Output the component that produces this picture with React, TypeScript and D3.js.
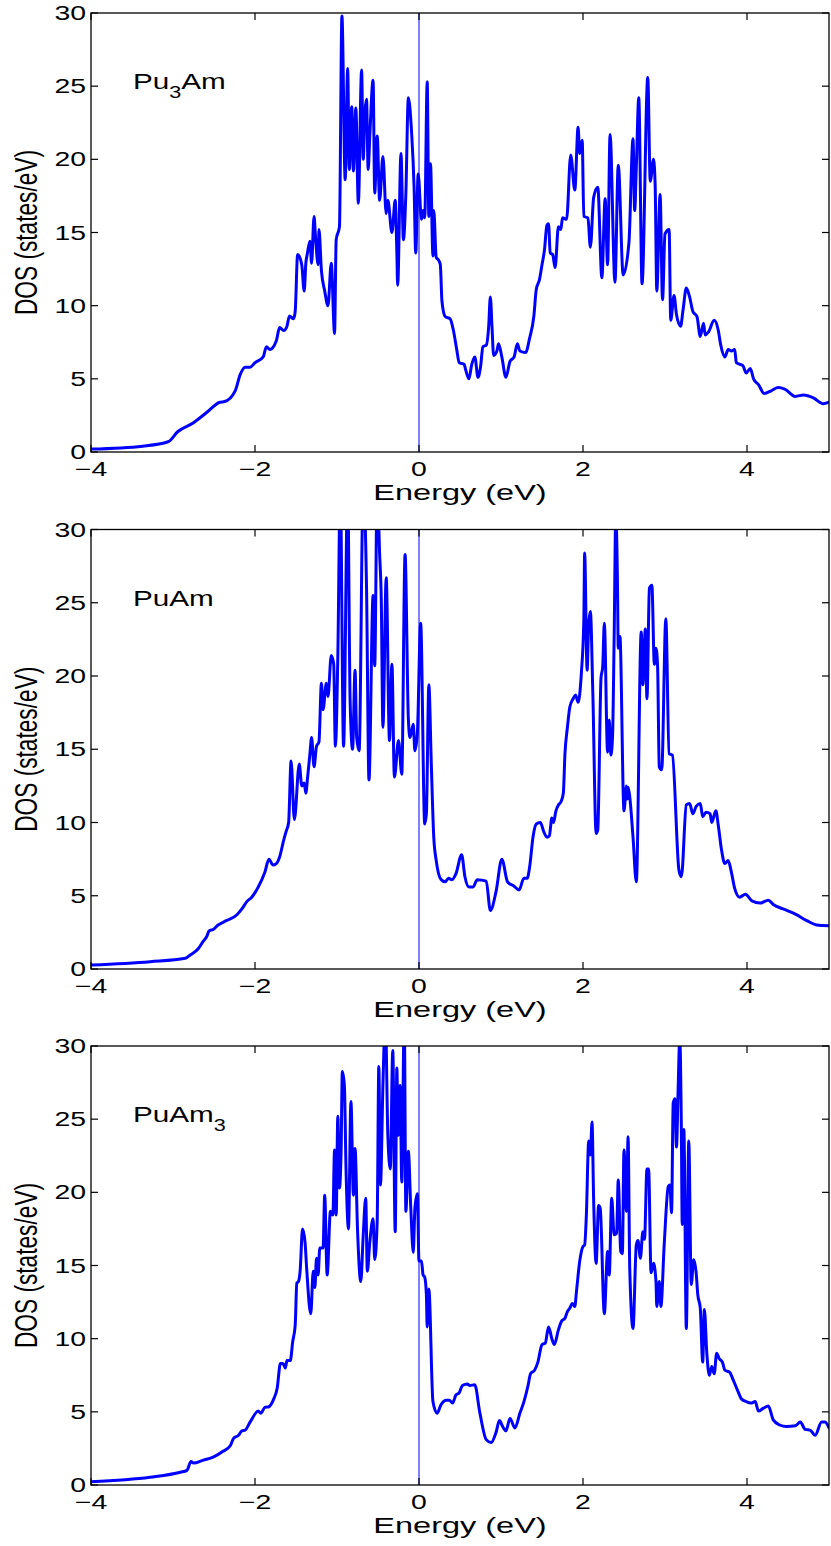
import React from "react";
import * as d3 from "d3";

// Energy (eV), DOS (states/eV) pairs
const pu3amDOS: [number, number][] = [
  [-4.0, 0.2], [-3.37, 0.4], [-3.06, 0.7], [-2.94, 1.4], [-2.75, 2.0], [-2.59, 2.7], [-2.43, 3.4], [-2.37, 3.45],
  [-2.24, 4.2], [-2.18, 5.3], [-2.12, 5.8], [-2.06, 5.8], [-2.0, 6.1], [-1.9, 6.5], [-1.86, 7.2], [-1.82, 7.0],
  [-1.74, 7.6], [-1.7, 8.5], [-1.65, 8.3], [-1.61, 8.6], [-1.58, 9.3], [-1.53, 9.1], [-1.51, 9.6], [-1.48, 13.5],
  [-1.43, 12.8], [-1.4, 11.0], [-1.38, 12.9], [-1.36, 13.6], [-1.33, 14.4], [-1.31, 12.9], [-1.28, 16.1], [-1.26, 14.5],
  [-1.23, 12.8], [-1.22, 15.2], [-1.19, 12.4], [-1.15, 11.0], [-1.11, 10.0], [-1.07, 12.9], [-1.03, 8.1], [-1.01, 14.5],
  [-0.97, 15.4], [-0.94, 29.8], [-0.9, 18.6], [-0.87, 26.2], [-0.85, 19.3], [-0.82, 23.6], [-0.8, 19.2], [-0.77, 23.5],
  [-0.74, 17.0], [-0.7, 26.1], [-0.68, 20.0], [-0.66, 23.2], [-0.64, 24.1], [-0.62, 19.3], [-0.6, 21.6], [-0.56, 25.4],
  [-0.54, 17.7], [-0.51, 21.6], [-0.48, 17.2], [-0.44, 20.2], [-0.4, 16.3], [-0.38, 17.2], [-0.33, 15.0], [-0.29, 17.2],
  [-0.27, 13.6], [-0.26, 11.4], [-0.22, 20.4], [-0.19, 14.5], [-0.16, 17.7], [-0.13, 24.2], [-0.09, 21.8], [-0.06, 18.1],
  [-0.04, 13.6], [-0.01, 19.0], [0.03, 15.9], [0.05, 16.5], [0.07, 16.0], [0.1, 25.3], [0.12, 16.1], [0.14, 19.7],
  [0.17, 13.4], [0.18, 16.5], [0.21, 13.3], [0.24, 13.1], [0.26, 12.8], [0.28, 10.3], [0.32, 9.25], [0.38, 9.1],
  [0.42, 8.3], [0.46, 7.0], [0.49, 6.1], [0.55, 6.0], [0.57, 5.6], [0.61, 5.0], [0.64, 5.9], [0.68, 6.5],
  [0.72, 5.1], [0.75, 5.8], [0.78, 7.2], [0.82, 7.3], [0.85, 8.6], [0.87, 10.6], [0.89, 8.6], [0.91, 6.6],
  [0.95, 6.9], [0.97, 7.4], [1.01, 6.5], [1.06, 5.1], [1.11, 6.2], [1.16, 6.5], [1.2, 7.4], [1.23, 6.9],
  [1.3, 6.8], [1.35, 7.8], [1.4, 9.25], [1.43, 11.1], [1.47, 11.8], [1.5, 12.8], [1.53, 13.8], [1.56, 15.5],
  [1.58, 15.6], [1.6, 13.6], [1.63, 13.5], [1.66, 12.6], [1.7, 15.4], [1.73, 15.2], [1.75, 16.0], [1.8, 15.9],
  [1.85, 20.3], [1.9, 17.9], [1.94, 22.2], [1.96, 20.4], [1.99, 21.3], [2.01, 16.1], [2.06, 16.0], [2.09, 14.0],
  [2.13, 17.4], [2.18, 18.1], [2.23, 11.9], [2.27, 17.3], [2.3, 12.8], [2.33, 21.7], [2.39, 11.6], [2.43, 19.6],
  [2.49, 12.1], [2.56, 14.3], [2.61, 21.4], [2.63, 16.5], [2.65, 19.4], [2.68, 24.2], [2.72, 11.5], [2.79, 25.6],
  [2.82, 18.5], [2.86, 20.0], [2.88, 18.25], [2.9, 11.0], [2.94, 17.6], [2.97, 10.4], [3.0, 14.9], [3.05, 15.2],
  [3.07, 9.0], [3.11, 10.7], [3.14, 9.4], [3.19, 8.6], [3.22, 9.7], [3.26, 11.2], [3.3, 10.6], [3.34, 9.6],
  [3.39, 9.25], [3.43, 7.9], [3.47, 8.8], [3.49, 8.0], [3.53, 8.2], [3.6, 9.0], [3.65, 8.3], [3.68, 7.3],
  [3.73, 6.5], [3.77, 7.0], [3.81, 6.9], [3.85, 7.0], [3.87, 6.1], [3.95, 5.9], [3.99, 5.4], [4.04, 5.7],
  [4.08, 5.0], [4.14, 4.6], [4.21, 4.0], [4.3, 4.2], [4.38, 4.4], [4.46, 4.3], [4.59, 3.8], [4.69, 3.9],
  [4.81, 3.7], [4.93, 3.3], [5.0, 3.4],
];

const puamDOS: [number, number][] = [
  [-4.0, 0.27], [-3.28, 0.5], [-2.85, 0.73], [-2.79, 0.95], [-2.69, 1.4], [-2.63, 1.9], [-2.59, 2.2], [-2.56, 2.6],
  [-2.51, 2.7], [-2.45, 3.0], [-2.35, 3.3], [-2.22, 3.7], [-2.16, 4.1], [-2.1, 4.6], [-2.04, 4.9], [-1.96, 5.6],
  [-1.88, 6.6], [-1.83, 7.5], [-1.78, 7.1], [-1.74, 7.2], [-1.7, 7.65], [-1.65, 8.8], [-1.62, 9.4], [-1.59, 10.0],
  [-1.56, 14.2], [-1.52, 10.2], [-1.46, 14.0], [-1.43, 12.5], [-1.4, 12.7], [-1.38, 12.0], [-1.36, 13.0], [-1.33, 14.7],
  [-1.31, 15.8], [-1.28, 13.8], [-1.25, 15.2], [-1.22, 15.5], [-1.19, 19.5], [-1.17, 17.7], [-1.13, 19.5], [-1.11, 18.6],
  [-1.07, 21.4], [-1.04, 20.8], [-1.02, 15.2], [-0.99, 21.3], [-0.96, 33.0], [-0.92, 15.2], [-0.87, 33.0], [-0.84, 18.3],
  [-0.81, 15.0], [-0.78, 20.4], [-0.76, 15.8], [-0.73, 14.9], [-0.68, 33.0], [-0.64, 26.1], [-0.61, 12.9], [-0.56, 25.5],
  [-0.54, 20.7], [-0.51, 33.0], [-0.48, 28.3], [-0.46, 25.2], [-0.44, 16.5], [-0.4, 26.7], [-0.36, 15.6], [-0.33, 20.8],
  [-0.3, 13.1], [-0.25, 15.6], [-0.21, 13.3], [-0.17, 28.3], [-0.13, 17.1], [-0.11, 15.8], [-0.07, 16.7], [-0.05, 14.9],
  [-0.02, 16.1], [0.02, 23.6], [0.07, 9.9], [0.09, 10.6], [0.12, 19.4], [0.15, 14.0], [0.18, 9.0], [0.21, 7.4],
  [0.27, 6.1], [0.32, 5.95], [0.36, 6.2], [0.4, 6.1], [0.45, 6.5], [0.52, 7.8], [0.56, 6.3], [0.61, 5.6],
  [0.66, 5.6], [0.71, 6.1], [0.82, 6.0], [0.87, 4.0], [0.94, 5.3], [1.01, 7.5], [1.08, 5.95], [1.16, 5.65],
  [1.22, 5.4], [1.28, 6.2], [1.32, 6.2], [1.35, 7.0], [1.39, 9.0], [1.43, 9.9], [1.48, 10.0], [1.52, 9.4],
  [1.56, 9.0], [1.59, 9.1], [1.62, 10.3], [1.64, 10.0], [1.67, 10.8], [1.7, 11.2], [1.73, 11.4], [1.76, 12.0],
  [1.78, 14.7], [1.81, 16.5], [1.84, 17.9], [1.88, 18.45], [1.91, 18.7], [1.94, 18.2], [1.98, 20.2], [2.01, 23.8],
  [2.02, 28.4], [2.05, 20.4], [2.07, 23.6], [2.09, 24.4], [2.12, 18.8], [2.16, 9.25], [2.18, 9.5], [2.22, 19.9],
  [2.24, 20.6], [2.26, 23.6], [2.3, 14.8], [2.32, 17.0], [2.34, 14.6], [2.36, 15.8], [2.38, 22.7], [2.4, 31.0],
  [2.42, 26.5], [2.43, 21.9], [2.45, 22.7], [2.5, 10.8], [2.53, 12.5], [2.54, 11.6], [2.55, 12.4], [2.57, 11.75],
  [2.61, 9.0], [2.65, 5.95], [2.71, 23.0], [2.73, 19.4], [2.76, 23.2], [2.78, 18.45], [2.81, 26.0], [2.84, 26.2],
  [2.87, 20.8], [2.89, 21.9], [2.91, 20.6], [2.93, 13.8], [2.96, 13.6], [3.01, 23.9], [3.05, 14.7], [3.09, 14.6],
  [3.17, 6.75], [3.2, 6.3], [3.26, 11.2], [3.3, 11.3], [3.34, 10.6], [3.38, 11.1], [3.43, 11.3], [3.46, 10.4],
  [3.5, 10.7], [3.55, 10.6], [3.57, 10.0], [3.62, 10.8], [3.65, 9.8], [3.69, 8.1], [3.73, 7.2], [3.77, 7.4],
  [3.81, 6.6], [3.85, 5.5], [3.91, 4.9], [3.98, 5.1], [4.06, 4.65], [4.16, 4.5], [4.26, 4.7], [4.32, 4.4],
  [4.44, 4.1], [4.59, 3.75], [4.73, 3.3], [4.85, 3.0], [5.0, 2.95],
];

const puam3DOS: [number, number][] = [
  [-4.0, 0.23], [-3.28, 0.53], [-2.91, 0.87], [-2.83, 1.0], [-2.78, 1.6], [-2.75, 1.5], [-2.63, 1.7], [-2.51, 1.9],
  [-2.39, 2.3], [-2.3, 2.7], [-2.26, 3.2], [-2.2, 3.4], [-2.16, 3.7], [-2.12, 3.75], [-2.06, 4.3], [-1.96, 5.05],
  [-1.93, 4.9], [-1.88, 5.3], [-1.83, 5.35], [-1.77, 5.9], [-1.73, 6.6], [-1.69, 8.3], [-1.66, 8.3], [-1.63, 8.0],
  [-1.61, 8.5], [-1.57, 8.5], [-1.54, 9.8], [-1.51, 10.9], [-1.49, 13.8], [-1.47, 13.9], [-1.45, 14.6], [-1.42, 17.5],
  [-1.39, 16.6], [-1.37, 14.8], [-1.32, 11.7], [-1.29, 14.6], [-1.27, 13.5], [-1.25, 15.5], [-1.23, 14.35], [-1.21, 16.2],
  [-1.17, 16.2], [-1.15, 19.8], [-1.12, 14.35], [-1.08, 18.7], [-1.05, 18.45], [-1.03, 22.9], [-1.01, 18.45], [-0.99, 25.2],
  [-0.97, 20.3], [-0.95, 22.8], [-0.935, 28.25], [-0.91, 27.3], [-0.89, 21.6], [-0.86, 17.5], [-0.83, 26.2], [-0.8, 19.8],
  [-0.78, 23.0], [-0.75, 17.5], [-0.71, 13.9], [-0.68, 17.1], [-0.65, 19.6], [-0.63, 14.6], [-0.6, 16.6], [-0.56, 18.2],
  [-0.54, 15.4], [-0.51, 18.0], [-0.49, 28.6], [-0.47, 20.5], [-0.44, 27.3], [-0.41, 32.0], [-0.38, 23.9], [-0.35, 21.6],
  [-0.32, 29.7], [-0.29, 17.3], [-0.27, 28.5], [-0.255, 23.9], [-0.23, 27.3], [-0.21, 20.7], [-0.18, 32.0], [-0.16, 18.7],
  [-0.13, 22.8], [-0.1, 18.9], [-0.07, 15.9], [-0.05, 18.9], [-0.02, 19.9], [0.0, 15.3], [0.03, 15.3], [0.05, 14.35],
  [0.07, 14.2], [0.09, 13.0], [0.1, 10.8], [0.12, 13.4], [0.17, 5.7], [0.22, 4.9], [0.27, 5.5], [0.33, 5.8],
  [0.37, 5.8], [0.41, 5.6], [0.45, 6.15], [0.49, 6.3], [0.53, 6.8], [0.59, 6.9], [0.62, 6.8], [0.68, 6.85],
  [0.74, 5.0], [0.82, 3.1], [0.88, 2.9], [0.94, 3.6], [0.98, 4.4], [1.02, 4.0], [1.06, 3.7], [1.11, 4.55],
  [1.17, 3.9], [1.23, 4.9], [1.28, 5.7], [1.33, 6.8], [1.36, 7.6], [1.41, 7.85], [1.45, 8.4], [1.5, 9.6],
  [1.54, 9.7], [1.58, 10.8], [1.62, 10.0], [1.65, 9.6], [1.7, 10.6], [1.74, 11.2], [1.78, 11.4], [1.81, 11.85],
  [1.84, 12.1], [1.87, 12.4], [1.9, 12.2], [1.92, 13.2], [1.96, 15.3], [2.0, 16.3], [2.02, 16.4], [2.04, 18.3],
  [2.07, 23.5], [2.09, 22.55], [2.11, 24.8], [2.13, 19.4], [2.16, 15.15], [2.19, 19.1], [2.21, 18.9], [2.26, 11.7],
  [2.3, 15.95], [2.32, 14.35], [2.35, 19.6], [2.38, 17.1], [2.41, 17.2], [2.43, 20.85], [2.46, 15.95], [2.48, 15.8],
  [2.5, 22.9], [2.53, 18.7], [2.55, 23.8], [2.57, 14.8], [2.61, 10.7], [2.65, 16.4], [2.67, 16.7], [2.7, 15.5],
  [2.73, 17.3], [2.75, 16.8], [2.78, 21.6], [2.8, 21.6], [2.83, 14.5], [2.86, 15.15], [2.89, 13.9], [2.9, 12.2],
  [2.93, 13.9], [2.95, 12.2], [2.99, 16.4], [3.04, 20.4], [3.06, 20.5], [3.08, 18.6], [3.1, 26.1], [3.12, 26.4],
  [3.14, 23.1], [3.16, 27.0], [3.18, 30.5], [3.2, 24.0], [3.21, 17.8], [3.23, 24.3], [3.26, 10.7], [3.29, 23.5],
  [3.32, 13.7], [3.35, 15.4], [3.38, 14.5], [3.4, 13.0], [3.43, 12.1], [3.46, 8.4], [3.48, 12.0], [3.51, 9.0],
  [3.54, 7.5], [3.57, 8.1], [3.6, 7.6], [3.63, 9.0], [3.66, 8.65], [3.7, 8.4], [3.73, 7.85], [3.79, 7.7],
  [3.83, 7.2], [3.89, 6.4], [3.93, 5.9], [3.99, 5.7], [4.05, 5.6], [4.1, 5.7], [4.14, 5.05], [4.2, 5.25],
  [4.26, 5.4], [4.32, 4.45], [4.4, 4.1], [4.48, 4.0], [4.59, 4.05], [4.65, 4.3], [4.71, 3.8], [4.77, 3.75],
  [4.83, 3.4], [4.91, 4.3], [4.95, 4.3], [5.0, 3.9],
];

const xTicks = [-4, -2, 0, 2, 4];
const yTicks = [0, 5, 10, 15, 20, 25, 30];
const compoundBase = ["Pu", "PuAm", "PuAm"];
const compoundSub = ["3", "", "3"];
const compoundTail = ["Am", "", ""];
const xLabel = "Energy (eV)";
const yLabel = "DOS (states/eV)";

const SX = 1.42;
const FONT = "'Liberation Sans', Arial, Helvetica, sans-serif";

type PanelProps = {
  top: number;
  bottom: number;
  data: [number, number][];
  idx: number;
};

function Panel({ top, bottom, data, idx }: PanelProps) {
  const left = 91;
  const right = 829;
  const x = d3.scaleLinear().domain([-4, 5]).range([left, right]);
  const y = d3.scaleLinear().domain([0, 30]).range([bottom, top]);
  const line = d3
    .line<[number, number]>()
    .x((d) => x(d[0]))
    .y((d) => y(d[1]))
    .curve(d3.curveMonotoneX);
  const clipId = `clip${idx}`;
  const tickLen = 7;
  const midY = (top + bottom) / 2;
  return (
    <g>
      <defs>
        <clipPath id={clipId}>
          <rect x={left} y={top} width={right - left} height={bottom - top} />
        </clipPath>
      </defs>
      {/* zero energy line */}
      <line x1={x(0)} x2={x(0)} y1={top} y2={bottom} stroke="#0000ff" strokeWidth={1} />
      <path
        d={line(data) || ""}
        fill="none"
        stroke="#0000ff"
        strokeWidth={3}
        strokeLinejoin="round"
        strokeLinecap="round"
        clipPath={`url(#${clipId})`}
      />
      {/* axes box */}
      <rect x={left} y={top} width={right - left} height={bottom - top} fill="none" stroke="#000" strokeWidth={1.3} />
      {xTicks.map((t) => (
        <g key={"xt" + t}>
          <line x1={x(t)} x2={x(t)} y1={bottom} y2={bottom - tickLen} stroke="#000" strokeWidth={1.2} />
          <line x1={x(t)} x2={x(t)} y1={top} y2={top + tickLen} stroke="#000" strokeWidth={1.2} />
          <g transform={`translate(${x(t)},${bottom + 24}) scale(${SX},1)`}>
            <text textAnchor="middle" fontSize={20} fontFamily={FONT} fill="#000">
              {t < 0 ? "\u2212" + Math.abs(t) : String(t)}
            </text>
          </g>
        </g>
      ))}
      {yTicks.map((t) => (
        <g key={"yt" + t}>
          <line x1={left} x2={left + tickLen} y1={y(t)} y2={y(t)} stroke="#000" strokeWidth={1.2} />
          <line x1={right} x2={right - tickLen} y1={y(t)} y2={y(t)} stroke="#000" strokeWidth={1.2} />
          <g transform={`translate(${left - 5},${y(t) + 7}) scale(${SX},1)`}>
            <text textAnchor="end" fontSize={20} fontFamily={FONT} fill="#000">
              {String(t)}
            </text>
          </g>
        </g>
      ))}
      <g transform={`translate(${(left + right) / 2},${bottom + 48}) scale(${SX * 1.04},1)`}>
        <text textAnchor="middle" fontSize={22} fontFamily={FONT} fill="#000">
          {xLabel}
        </text>
      </g>
      <g transform={`translate(37,${midY}) scale(${SX},1) rotate(-90)`}>
        <text textAnchor="middle" fontSize={22.7} fontFamily={FONT} fill="#000">
          {yLabel}
        </text>
      </g>
      <g transform={`translate(133,${top + 76}) scale(${SX * 0.95},1)`}>
        <text fontSize={22} fontFamily={FONT} fill="#000">
          {compoundBase[idx]}
          {compoundSub[idx] && (
            <tspan fontSize={16} dy={9}>
              {compoundSub[idx]}
            </tspan>
          )}
          {compoundTail[idx] && <tspan dy={-9}>{compoundTail[idx]}</tspan>}
        </text>
      </g>
    </g>
  );
}

export default function App() {
  const panels = [
    { top: 13, bottom: 452, data: pu3amDOS },
    { top: 529.5, bottom: 969, data: puamDOS },
    { top: 1046, bottom: 1485, data: puam3DOS },
  ];
  return (
    <svg
      width={831}
      height={1546}
      style={{ position: "absolute", left: 0, top: 0, background: "#fff" }}
    >
      <rect x={0} y={0} width={831} height={1546} fill="#fff" />
      {panels.map((p, i) => (
        <Panel key={i} idx={i} top={p.top} bottom={p.bottom} data={p.data} />
      ))}
    </svg>
  );
}
